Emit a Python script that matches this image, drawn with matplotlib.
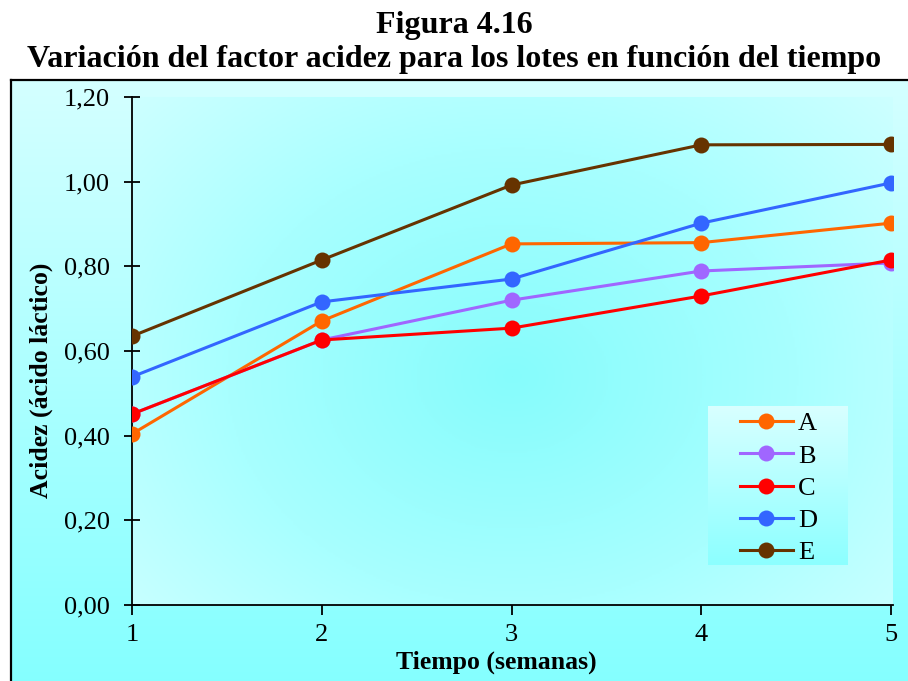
import numpy as np
import matplotlib
matplotlib.use("Agg")
import matplotlib.pyplot as plt
from matplotlib.colors import LinearSegmentedColormap

plt.rcParams['font.family'] = ['Liberation Serif', 'DejaVu Serif']

# Data
semanas = [1, 2, 3, 4, 5]
lote_A = [0.404, 0.671, 0.853, 0.856, 0.902]
lote_B = [0.451, 0.626, 0.720, 0.789, 0.808]
lote_C = [0.451, 0.626, 0.654, 0.730, 0.815]
lote_D = [0.539, 0.716, 0.770, 0.902, 0.997]
lote_E = [0.635, 0.815, 0.992, 1.087, 1.088]
lotes = ["A", "B", "C", "D", "E"]
colores = ["#FF6600", "#A066FF", "#FF0000", "#3366FF", "#663300"]
y_ticks = [0.0, 0.2, 0.4, 0.6, 0.8, 1.0, 1.2]

W, H = 908, 681
fig = plt.figure(figsize=(W / 100, H / 100), dpi=100)

# Chart area background (vertical gradient) with border
bg = fig.add_axes([11 / W, -0.01, 1.0, 1 - 80 / H + 0.01])
bg.set_xlim(0, 1)
bg.set_ylim(0, 1)
cm_bg = LinearSegmentedColormap.from_list("bg", ["#84FFFF", "#ACFFFF", "#D4FFFF"])
grad = np.linspace(0, 1, 256).reshape(-1, 1)
bg.imshow(grad, cmap=cm_bg, aspect="auto", extent=[0, 1, 0, 1], origin="lower")
bg.set_xticks([])
bg.set_yticks([])
for s in bg.spines.values():
    s.set_linewidth(1.6)
    s.set_color("black")

# Plot area
ax = fig.add_axes([132 / W, 1 - 605 / H, (893 - 132) / W, (605 - 97) / H])
ax.patch.set_alpha(0)

# radial gradient for plot area
yy, xx = np.mgrid[0:1:300j, 0:1:400j]
r = np.sqrt(((xx - 0.5) / 0.75) ** 2 + ((yy - 0.45) / 0.9) ** 2)
cm_pa = LinearSegmentedColormap.from_list("pa", ["#86FCFC", "#A8FFFF", "#D6FFFF"])
ax.imshow(np.clip(r, 0, 1), cmap=cm_pa, aspect="auto", extent=[0, 1, 0, 1],
          origin="lower", transform=ax.transAxes, zorder=0, vmin=0, vmax=1)

# legend background
lg = np.linspace(0, 1, 128).reshape(-1, 1)
cm_lg = LinearSegmentedColormap.from_list("lg", ["#8CFFFF", "#D8FFFF"])
ax.imshow(lg, cmap=cm_lg, aspect="auto", origin="lower", transform=ax.transAxes,
          extent=[(708 - 132) / 761, (848 - 132) / 761, (605 - 565) / 508, (605 - 406) / 508],
          zorder=1)

series = [lote_A, lote_B, lote_C, lote_D, lote_E]
for nombre, vals, c in zip(lotes, series, colores):
    ax.plot(semanas, vals, color=c, lw=2.2, marker="o", markersize=11.5,
            markeredgewidth=0, label=nombre, zorder=3)

ax.set_xlim(1, 5.0105)
ax.set_ylim(0, 1.2)
ax.set_xticks(semanas)
ax.set_yticks(y_ticks)
ax.set_yticklabels([f"{v:.2f}".replace(".", ",") for v in y_ticks])
for side in ["top", "right"]:
    ax.spines[side].set_visible(False)
ax.spines["left"].set_linewidth(1.3)
ax.spines["bottom"].set_linewidth(1.3)
ax.tick_params(axis="y", direction="inout", length=12, width=1.3, labelsize=19, pad=10)
ax.tick_params(axis="x", direction="out", length=7, width=1.3, labelsize=19, pad=7)

ax.set_ylabel("Acidez (ácido láctico)", fontsize=18.5, fontweight="bold")
ax.yaxis.set_label_coords((53 - 132) / 761, (605 - 380) / 508)
ax.set_xlabel("Tiempo (semanas)", fontsize=18.5, fontweight="bold")
ax.xaxis.set_label_coords((496 - 132) / 761, (605 - 651) / 508)

leg = ax.legend(loc="upper left", bbox_to_anchor=((740 - 132) / 761, (605 - 412) / 508),
                frameon=False, fontsize=19, handlelength=2.0, borderpad=0,
                borderaxespad=0, labelspacing=0.33, handletextpad=0.2)
leg.set_zorder(4)

fig.text(0.5, 1 - 33 / H, "Figura 4.16", ha="center", va="baseline",
         fontsize=23, fontweight="bold")
fig.text(0.5, 1 - 67 / H, "Variación del factor acidez para los lotes en función del tiempo",
         ha="center", va="baseline", fontsize=23, fontweight="bold")

fig.savefig("out.png", dpi=100)
